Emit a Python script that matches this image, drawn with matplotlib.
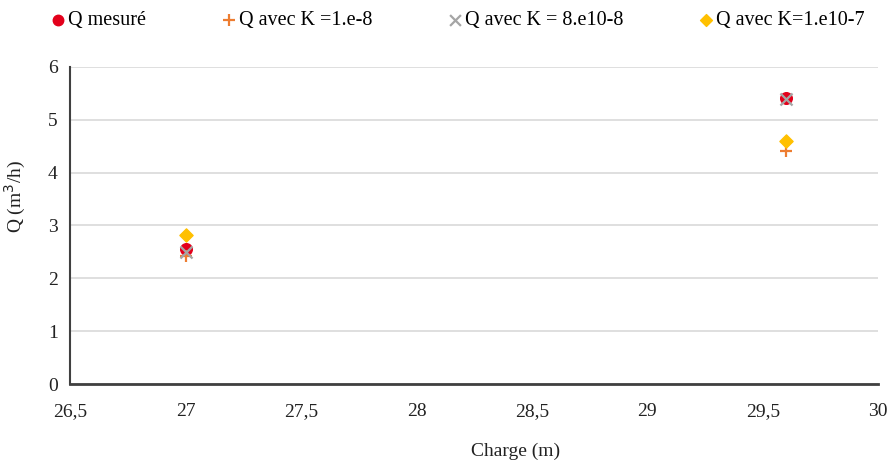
import matplotlib
matplotlib.use("Agg")
import matplotlib.pyplot as plt

charge = [27.0, 29.6]
q_mesure = [2.55, 5.42]
q_k1e8 = [2.42, 4.40]
q_k8e10 = [2.50, 5.40]
q_k1e10_7 = [2.82, 4.60]

xticks = [26.5, 27, 27.5, 28, 28.5, 29, 29.5, 30]
xticklabels = ["26,5", "27", "27,5", "28", "28,5", "29", "29,5", "30"]
yticks = [0, 1, 2, 3, 4, 5, 6]

plt.rcParams['font.family'] = ['Liberation Serif', 'DejaVu Serif']

fig = plt.figure(figsize=(8.88, 4.61), dpi=100)
ax = fig.add_axes([0.079, 0.167, 0.910, 0.688])

h1 = ax.scatter(charge, q_mesure, marker='o', s=70, color='#E3001B', zorder=3, label='Q mesuré')
h2 = ax.scatter(charge, q_k1e8, marker='+', s=80, color='#ED7D31', linewidths=1.6, zorder=4, label='Q avec K =1.e-8')
h3 = ax.scatter(charge, q_k8e10, marker='x', s=75, color='#A5A5A5', linewidths=1.6, zorder=5, label='Q avec K = 8.e10-8')
h4 = ax.scatter(charge, q_k1e10_7, marker='D', s=45, color='#FFC000', zorder=6, label='Q avec K=1.e10-7')

ax.set_xlim(26.5, 30)
ax.set_ylim(0, 6)
ax.set_xticks(xticks)
ax.set_xticklabels(xticklabels)
ax.set_yticks(yticks)
ax.tick_params(axis='both', length=0, labelsize=14, colors='#222222')
ax.tick_params(axis='x', pad=14)
ax.tick_params(axis='y', pad=9)
ax.grid(axis='y', color='#D9D9D9', linewidth=1.2)
ax.set_axisbelow(True)
for s in ['top', 'right']:
    ax.spines[s].set_visible(False)
ax.spines['left'].set_color('#404040')
ax.spines['bottom'].set_color('#404040')
ax.spines['left'].set_linewidth(1.5)
ax.spines['bottom'].set_linewidth(2)

ax.set_xlabel('Charge (m)', fontsize=14, color='#222222')
ax.set_ylabel('Q (m$^3$/h)', fontsize=14, color='#222222')
ax.xaxis.set_label_coords(0.551, -0.186)
ax.yaxis.set_label_coords(-0.052, 0.59)

fig.legend(handles=[h1, h2, h3, h4], loc='center', bbox_to_anchor=(0.514, 0.955),
           ncol=4, frameon=False, fontsize=14.5, handletextpad=0.0,
           columnspacing=3.6, handlelength=1.0, markerscale=0.9)

fig.savefig('out.png', dpi=100)
